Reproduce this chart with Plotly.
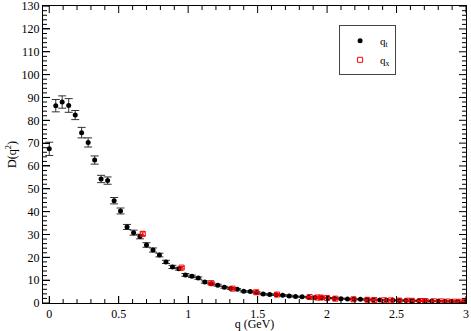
import plotly.graph_objects as go

# q_t data (black circles)
qt_q = [0.000, 0.047, 0.093, 0.140, 0.187, 0.233, 0.280, 0.327, 0.373, 0.420,
        0.467, 0.513, 0.560, 0.607, 0.653, 0.700, 0.747, 0.793, 0.840, 0.887,
        0.933, 0.980, 1.027, 1.073, 1.120, 1.167, 1.213, 1.260, 1.307, 1.353,
        1.400, 1.447, 1.493, 1.540, 1.587, 1.633, 1.680, 1.727, 1.773, 1.820,
        1.867, 1.913, 1.960, 2.007, 2.053, 2.100, 2.147, 2.193, 2.240, 2.287,
        2.333, 2.380, 2.427, 2.473, 2.520, 2.567, 2.613, 2.660, 2.707, 2.753,
        2.800, 2.847, 2.893, 2.940, 2.987]
qt_d = [67.5, 86.4, 88.0, 86.5, 82.3, 74.6, 70.3, 62.6, 54.3, 53.6,
        44.8, 40.3, 33.3, 30.8, 29.1, 25.4, 23.2, 21.0, 18.0, 15.8,
        15.0, 12.3, 11.7, 10.9, 9.2, 8.4, 7.8, 6.9, 6.4, 6.0,
        5.1, 5.0, 4.6, 3.9, 3.7, 3.6, 3.4, 3.1, 2.8, 2.7,
        2.5, 2.4, 2.3, 2.2, 2.0, 1.9, 1.8, 1.7, 1.6, 1.5,
        1.4, 1.3, 1.25, 1.2, 1.1, 1.05, 1.0, 0.95, 0.9, 0.85,
        0.8, 0.75, 0.7, 0.65, 0.6]
qt_err = [2.9, 2.7, 2.7, 3.0, 2.0, 2.3, 2.0, 1.8, 1.6, 1.6,
          1.4, 1.3, 1.1, 1.1, 1.0, 1.0, 0.9, 0.8, 0.7, 0.7,
          0.6, 0.6, 0.5, 0.5, 0.5, 0.4, 0.4, 0.4, 0.4, 0.3,
          0.3, 0.3, 0.3, 0.3, 0.3, 0.3, 0.3, 0.3, 0.2, 0.2,
          0.2, 0.2, 0.2, 0.2, 0.2, 0.2, 0.2, 0.2, 0.2, 0.2,
          0.2, 0.2, 0.2, 0.2, 0.2, 0.2, 0.2, 0.2, 0.2, 0.2,
          0.2, 0.2, 0.2, 0.2, 0.2]

# q_x data (red open squares)
qx_q = [0.673, 0.953, 1.167, 1.320, 1.490, 1.640, 1.875, 1.930, 1.955, 2.000,
        2.060, 2.190, 2.290, 2.340, 2.410, 2.460, 2.520, 2.580, 2.610, 2.670,
        2.690, 2.710, 2.770, 2.820, 2.870, 2.920, 2.960, 3.000]
qx_d = [30.3, 15.5, 8.7, 6.3, 4.7, 3.7, 2.6, 2.4, 2.4, 2.2,
        1.9, 1.6, 1.4, 1.3, 1.2, 1.15, 1.05, 1.0, 0.95, 0.85,
        0.8, 0.8, 0.75, 0.7, 0.65, 0.6, 0.55, 0.5]
qx_err = [0.8, 0.5, 0.4, 0.3, 0.3, 0.3, 0.2, 0.2, 0.2, 0.2,
          0.2, 0.2, 0.2, 0.2, 0.2, 0.2, 0.2, 0.2, 0.2, 0.2,
          0.2, 0.2, 0.2, 0.2, 0.2, 0.2, 0.2, 0.2]

FONT = "Liberation Serif, Times New Roman, serif"
MAJOR_LEN = 7
MINOR_LEN = 4

fig = go.Figure()

fig.add_trace(
    go.Scatter(
        x=qt_q,
        y=qt_d,
        mode="markers",
        name="q<sub>t</sub>",
        marker=dict(symbol="circle", size=5, color="black"),
        error_y=dict(type="data", array=qt_err, color="#333333",
                     thickness=1, width=4),
    )
)

fig.add_trace(
    go.Scatter(
        x=qx_q,
        y=qx_d,
        mode="markers",
        name="q<sub>x</sub>",
        marker=dict(symbol="square-open", size=5, color="red",
                    line=dict(width=1, color="red")),
        error_y=dict(type="data", array=qx_err, color="red",
                     thickness=1, width=3),
    )
)

fig.update_xaxes(
    range=[-0.045, 3.0],
    tick0=0,
    dtick=0.5,
    ticks="inside",
    ticklen=MAJOR_LEN,
    tickcolor="black",
    showline=True,
    linecolor="black",
    linewidth=1,
    mirror=True,
    showgrid=False,
    zeroline=False,
    ticklabeloverflow="allow",
    tickfont=dict(family=FONT, size=12, color="black"),
    title=dict(text="q (GeV)", font=dict(family=FONT, size=12, color="black"),
               standoff=3),
)

fig.update_yaxes(
    range=[0, 130.05],
    tick0=0,
    dtick=10,
    ticks="inside",
    ticklen=MAJOR_LEN,
    tickcolor="black",
    showline=True,
    linecolor="black",
    linewidth=1,
    mirror=True,
    showgrid=False,
    zeroline=False,
    ticklabeloverflow="allow",
    tickfont=dict(family=FONT, size=12, color="black"),
    title=dict(text="D(q<sup>2</sup>)", font=dict(family=FONT, size=12, color="black"),
               standoff=2),
)

# inside tick marks on all four sides (drawn as pixel-sized shapes so they
# show up even where the axis ticks do not render)
tick_line = dict(color="black", width=1)
for i in range(31):
    xv = i / 10
    n = MAJOR_LEN if i % 5 == 0 else MINOR_LEN
    for anchor, sign in ((0, 1), (1, -1)):
        fig.add_shape(type="line", xref="x", yref="paper", ysizemode="pixel",
                      yanchor=anchor, x0=xv, x1=xv, y0=0, y1=sign * n,
                      line=tick_line)
for i in range(66):
    yv = i * 2
    n = MAJOR_LEN if yv % 10 == 0 else MINOR_LEN
    for anchor, sign in ((0, 1), (1, -1)):
        fig.add_shape(type="line", yref="y", xref="paper", xsizemode="pixel",
                      xanchor=anchor, y0=yv, y1=yv, x0=0, x1=sign * n,
                      line=tick_line)

fig.update_layout(
    width=471,
    height=331,
    margin=dict(l=43, r=5, t=6, b=28, autoexpand=False),
    plot_bgcolor="white",
    paper_bgcolor="white",
    showlegend=True,
    legend=dict(
        x=0.70,
        y=0.935,
        xanchor="left",
        yanchor="top",
        bordercolor="#444444",
        borderwidth=1,
        bgcolor="white",
        itemwidth=30,
        font=dict(family=FONT, size=11, color="black"),
        tracegroupgap=0,
    ),
)

# the page body has a default margin; drop it so the figure sits at 0,0
fig.write_html(
    "out.html",
    config={"displayModeBar": False},
    post_script="document.body.style.margin='0';",
)
